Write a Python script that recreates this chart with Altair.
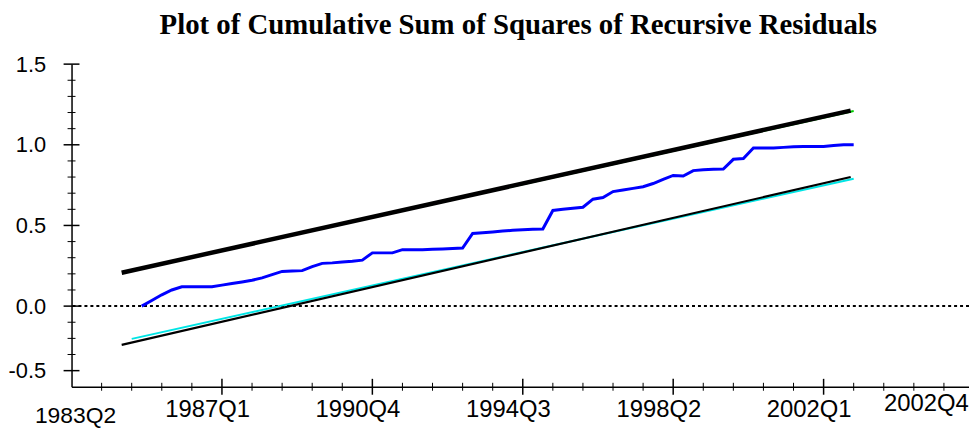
import altair as alt
import pandas as pd

# ---------------- data ----------------
# x = quarter index counted from 1983Q2 (index 0)
blue_q = list(range(7, 79))
blue_v = [0.00, 0.035, 0.07, 0.10, 0.12, 0.12, 0.12, 0.12, 0.13, 0.14,
          0.15, 0.16, 0.175, 0.195, 0.215, 0.218, 0.22, 0.245, 0.265, 0.268,
          0.273, 0.278, 0.285, 0.33, 0.33, 0.33, 0.35, 0.35, 0.35, 0.352,
          0.354, 0.357, 0.36, 0.45, 0.455, 0.46, 0.465, 0.47, 0.473, 0.476,
          0.478, 0.593, 0.60, 0.607, 0.613, 0.663, 0.673, 0.71, 0.72, 0.73,
          0.74, 0.76, 0.785, 0.81, 0.806, 0.84, 0.845, 0.848, 0.85, 0.91,
          0.915, 0.98, 0.98, 0.98, 0.984, 0.988, 0.99, 0.99, 0.99, 0.996,
          1.0, 1.0]

upper_q = [5, 77.7]
upper_v = [0.207, 1.212]
lower_q = [5, 77.7]
lower_v = [-0.24, 0.80]
cyan_q = [6, 78]
cyan_v = [-0.203, 0.79]
green_q = [6, 78]
green_v = [0.22, 1.21]

x_major = [15, 30, 45, 60, 75]
x_major_labels = ["1987Q1", "1990Q4", "1994Q3", "1998Q2", "2002Q1"]
x_minor = [i for i in range(3, 90, 3) if i % 15 != 0]
y_major = [1.5, 1.0, 0.5, 0.0, -0.4]
y_major_labels = ["1.5", "1.0", "0.5", "0.0", "-0.5"]
y_minor = [1.4, 1.3, 1.2, 1.1, 0.9, 0.8, 0.7, 0.6, 0.4, 0.3, 0.2, 0.1,
           -0.1, -0.2, -0.3]

title_text = "Plot of Cumulative Sum of Squares of Recursive Residuals"
start_label = "1983Q2"
end_label = "2002Q4"

W, H = 904, 325

# ---------------- encodings ----------------
x_label_expr = " : ".join(
    f"datum.value == {q} ? '{l}'" for q, l in zip(x_major, x_major_labels)) + " : ''"
y_label_expr = " : ".join(
    f"abs(datum.value - ({v})) < 0.01 ? '{l}'" for v, l in zip(y_major, y_major_labels)) + " : ''"

X = alt.X("q:Q", scale=alt.Scale(domain=[0, 89.5], nice=False, zero=False),
          axis=alt.Axis(values=x_major, labelExpr=x_label_expr, ticks=False, grid=False,
                        domainColor="black", domainWidth=1.5, labelPadding=11,
                        labelOffset=-15,
                        labelFont="Liberation Sans", labelFontSize=24, labelColor="black",
                        labelFlush=False, title=None))
Y = alt.Y("v:Q", scale=alt.Scale(domain=[-0.5, 1.5], nice=False, zero=False),
          axis=alt.Axis(values=y_major, labelExpr=y_label_expr, ticks=False, grid=False,
                        domainColor="black", domainWidth=1.5, labelPadding=26,
                        labelFont="Liberation Sans", labelFontSize=22, labelColor="black",
                        labelFlush=False, title=None))

def line_df(qs, vs):
    return pd.DataFrame({"q": qs, "v": vs})

zero = alt.Chart(pd.DataFrame({"v": [0.0]})).mark_rule(
    color="black", strokeWidth=2, strokeDash=[3, 3]).encode(y=Y)

cyan = alt.Chart(line_df(cyan_q, cyan_v)).mark_line(color="#00e5e5", strokeWidth=2).encode(x=X, y=Y)
green = alt.Chart(line_df(green_q, green_v)).mark_line(color="#00cc00", strokeWidth=2).encode(x=X, y=Y)
lower = alt.Chart(line_df(lower_q, lower_v)).mark_line(color="black", strokeWidth=2.2).encode(x=X, y=Y)
upper = alt.Chart(line_df(upper_q, upper_v)).mark_line(color="black", strokeWidth=4.5).encode(x=X, y=Y)
blue = alt.Chart(line_df(blue_q, blue_v)).mark_line(color="#0000ff", strokeWidth=3).encode(x=X, y=Y)

ymaj_ticks = alt.Chart(pd.DataFrame({"v": y_major})).mark_rule(color="black", strokeWidth=1.5).encode(
    y=Y, x=alt.value(-8), x2=alt.value(8))
ymin_ticks = alt.Chart(pd.DataFrame({"v": y_minor})).mark_rule(color="black", strokeWidth=1).encode(
    y=Y, x=alt.value(-4), x2=alt.value(4))
xmaj_ticks = alt.Chart(pd.DataFrame({"q": x_major})).mark_rule(color="black", strokeWidth=1.5).encode(
    x=X, y=alt.value(H - 8), y2=alt.value(H + 8))
xmin_ticks = alt.Chart(pd.DataFrame({"q": x_minor})).mark_rule(color="black", strokeWidth=1).encode(
    x=X, y=alt.value(H - 4), y2=alt.value(H + 4))

start_txt = alt.Chart(pd.DataFrame({"t": [start_label]})).mark_text(
    font="Liberation Sans", fontSize=23, color="black", baseline="top", align="center").encode(
    text="t:N", x=alt.value(4), y=alt.value(H + 18))
end_txt = alt.Chart(pd.DataFrame({"t": [end_label]})).mark_text(
    font="Liberation Sans", fontSize=24, color="black", baseline="top", align="center").encode(
    text="t:N", x=alt.value(861), y=alt.value(H + 5))

title = alt.Chart(pd.DataFrame({"t": [title_text]})).mark_text(
    font="Liberation Serif", fontWeight="bold", fontSize=29, color="black",
    baseline="alphabetic", align="center").encode(
    text="t:N", x=alt.value(450), y=alt.value(-30))

chart = alt.layer(
    zero, cyan, green, lower, upper, blue,
    ymaj_ticks, ymin_ticks, xmaj_ticks, xmin_ticks,
    start_txt, end_txt, title
).properties(
    width=W, height=H,
    autosize=alt.AutoSizeParams(type="none"),
    padding={"left": 64, "top": 55, "right": 0, "bottom": 42},
    background="white",
).configure_view(stroke=None)

chart.save("out.html", embed_options={"renderer": "svg", "actions": False})
